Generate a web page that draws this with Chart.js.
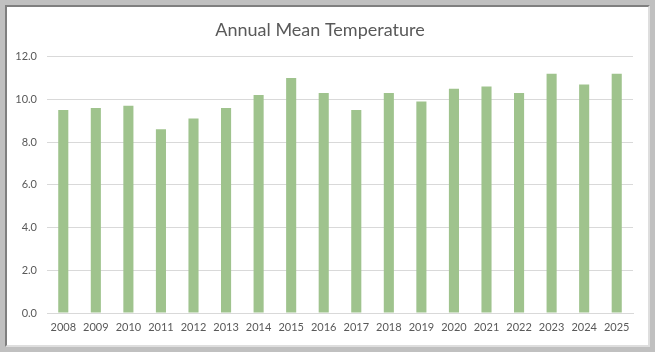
<!DOCTYPE html>
<html>
<head>
<meta charset="utf-8">
<script src="https://cdn.jsdelivr.net/npm/chart.js@4/dist/chart.umd.min.js"></script>
<style>
  html, body { margin: 0; padding: 0; background: #fff; }
  .frame {
    position: relative;
    width: 655px;
    height: 352px;
    box-sizing: border-box;
    background: #c0c0c0;
    overflow: hidden;
  }
  .inner {
    position: absolute;
    left: 5px;
    top: 5px;
    width: 645px;
    height: 342px;
    box-sizing: border-box;
    border-top: 2px solid #7f7f7f;
    border-left: 2px solid #7f7f7f;
    border-right: 2px solid #dedede;
    border-bottom: 2px solid #dedede;
    background: #fff;
  }
  canvas { display: block; }
</style>
</head>
<body>
<div class="frame">
  <div class="inner">
    <canvas id="chart" width="641" height="338"></canvas>
  </div>
</div>
<script>
const years = ['2008', '2009', '2010', '2011', '2012', '2013', '2014', '2015', '2016',
  '2017', '2018', '2019', '2020', '2021', '2022', '2023', '2024', '2025'];
const meanTemps = [9.5, 9.6, 9.7, 8.6, 9.1, 9.6, 10.2, 11.0, 10.3,
  9.5, 10.3, 9.9, 10.5, 10.6, 10.3, 11.2, 10.7, 11.2];
const yTicks = [0, 2, 4, 6, 8, 10, 12];

const labelColor = '#595959';
const gridColor = '#d9d9d9';

new Chart(document.getElementById('chart'), {
  type: 'bar',
  data: {
    labels: years,
    datasets: [{
      label: 'Annual Mean Temperature',
      data: meanTemps,
      backgroundColor: '#9fc38d',
      borderWidth: 0,
      barPercentage: 0.31,
      categoryPercentage: 1
    }]
  },
  options: {
    responsive: false,
    animation: false,
    layout: { padding: { left: 0, right: 15, top: 0, bottom: 0 } },
    plugins: {
      legend: { display: false },
      tooltip: { enabled: false },
      title: {
        display: true,
        text: 'Annual Mean Temperature',
        color: labelColor,
        font: { family: 'Lato', size: 18, weight: 'normal' },
        padding: { top: 12, bottom: 16 }
      }
    },
    scales: {
      x: {
        grid: { display: false, drawTicks: false },
        border: { display: true, color: gridColor },
        ticks: {
          color: labelColor,
          font: { family: 'Lato', size: 11 },
          padding: 8,
          maxRotation: 0,
          autoSkip: false
        },
        afterFit: scale => { scale.height = 32; }
      },
      y: {
        min: yTicks[0],
        max: yTicks[yTicks.length - 1],
        grid: { color: gridColor, drawTicks: false },
        border: { display: false },
        afterBuildTicks: scale => { scale.ticks = yTicks.map(v => ({ value: v })); },
        ticks: {
          color: labelColor,
          font: { family: 'Lato', size: 11 },
          padding: 10,
          callback: v => Number(v).toFixed(1)
        },
        afterFit: scale => { scale.width = 40; }
      }
    }
  }
});
</script>
</body>
</html>
